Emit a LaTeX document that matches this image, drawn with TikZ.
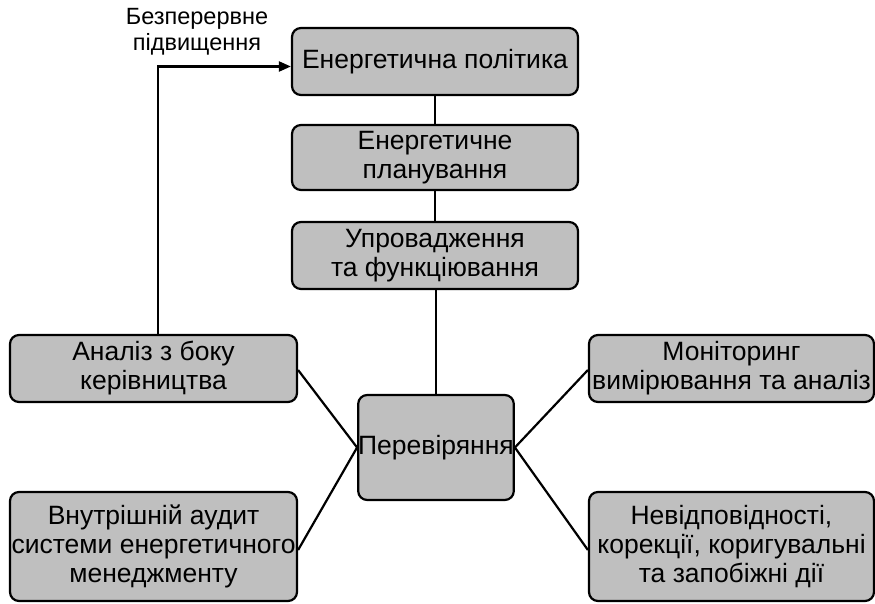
\documentclass[tikz,border=0pt]{standalone}
\usepackage{fontspec}
\setmainfont{Liberation Sans}
\usetikzlibrary{arrows.meta}
\begin{document}
\begin{tikzpicture}[x=1pt,y=-1pt,
  box/.style={draw=black, line width=2.2pt, fill=black!25, rounded corners=9pt,
    inner sep=0pt, align=center, font=\fontsize{26.5}{29}\selectfont},
  conn/.style={line width=2.2pt},
  lbl/.style={align=center, font=\fontsize{23.5}{26}\selectfont}]
\useasboundingbox (0,0) rectangle (875,604);
\node[box, minimum width=286pt, minimum height=67pt] (e1) at (435,61.5) {Енергетична політика};
\node[box, minimum width=286pt, minimum height=65pt] (e2) at (435,157.5) {Енергетичне\\планування};
\node[box, minimum width=286pt, minimum height=67pt] (e3) at (435,255.5) {Упровадження\\та функціювання};
\node[box, minimum width=154pt, minimum height=105pt] (chk) at (436,447.5) {Перевіряння};
\node[box, minimum width=287pt, minimum height=67pt] (l1) at (153.5,368.5) {Аналіз з боку\\керівництва};
\node[box, minimum width=287pt, minimum height=109pt] (l2) at (153.5,546.5) {Внутрішній аудит\\системи енергетичного\\менеджменту};
\node[box, minimum width=285pt, minimum height=67pt] (r1) at (731.5,368.5) {Моніторинг\\вимірювання та аналіз};
\node[box, minimum width=285pt, minimum height=109pt] (r2) at (731.5,546.5) {Невідповідності,\\корекції, коригувальні\\та запобіжні дії};
\node[lbl] (fbl) at (197,32) {Безперервне\\підвищення};
\draw[conn] (e1) -- (e2);
\draw[conn] (e2) -- (e3);
\draw[conn] (e3.south -| chk.north) -- (chk.north);
\draw[conn] ([yshift=-1.5pt]l1.east) -- (chk.west);
\draw[conn] ([yshift=-3.5pt]l2.east) -- (chk.west);
\draw[conn] ([yshift=-1.5pt]r1.west) -- (chk.east);
\draw[conn] ([yshift=-3.5pt]r2.west) -- (chk.east);
\draw[conn, -{Triangle[length=12pt,width=10pt]}] ([xshift=4.5pt]l1.north) |- ([yshift=-5pt]e1.west);
\end{tikzpicture}
\end{document}
